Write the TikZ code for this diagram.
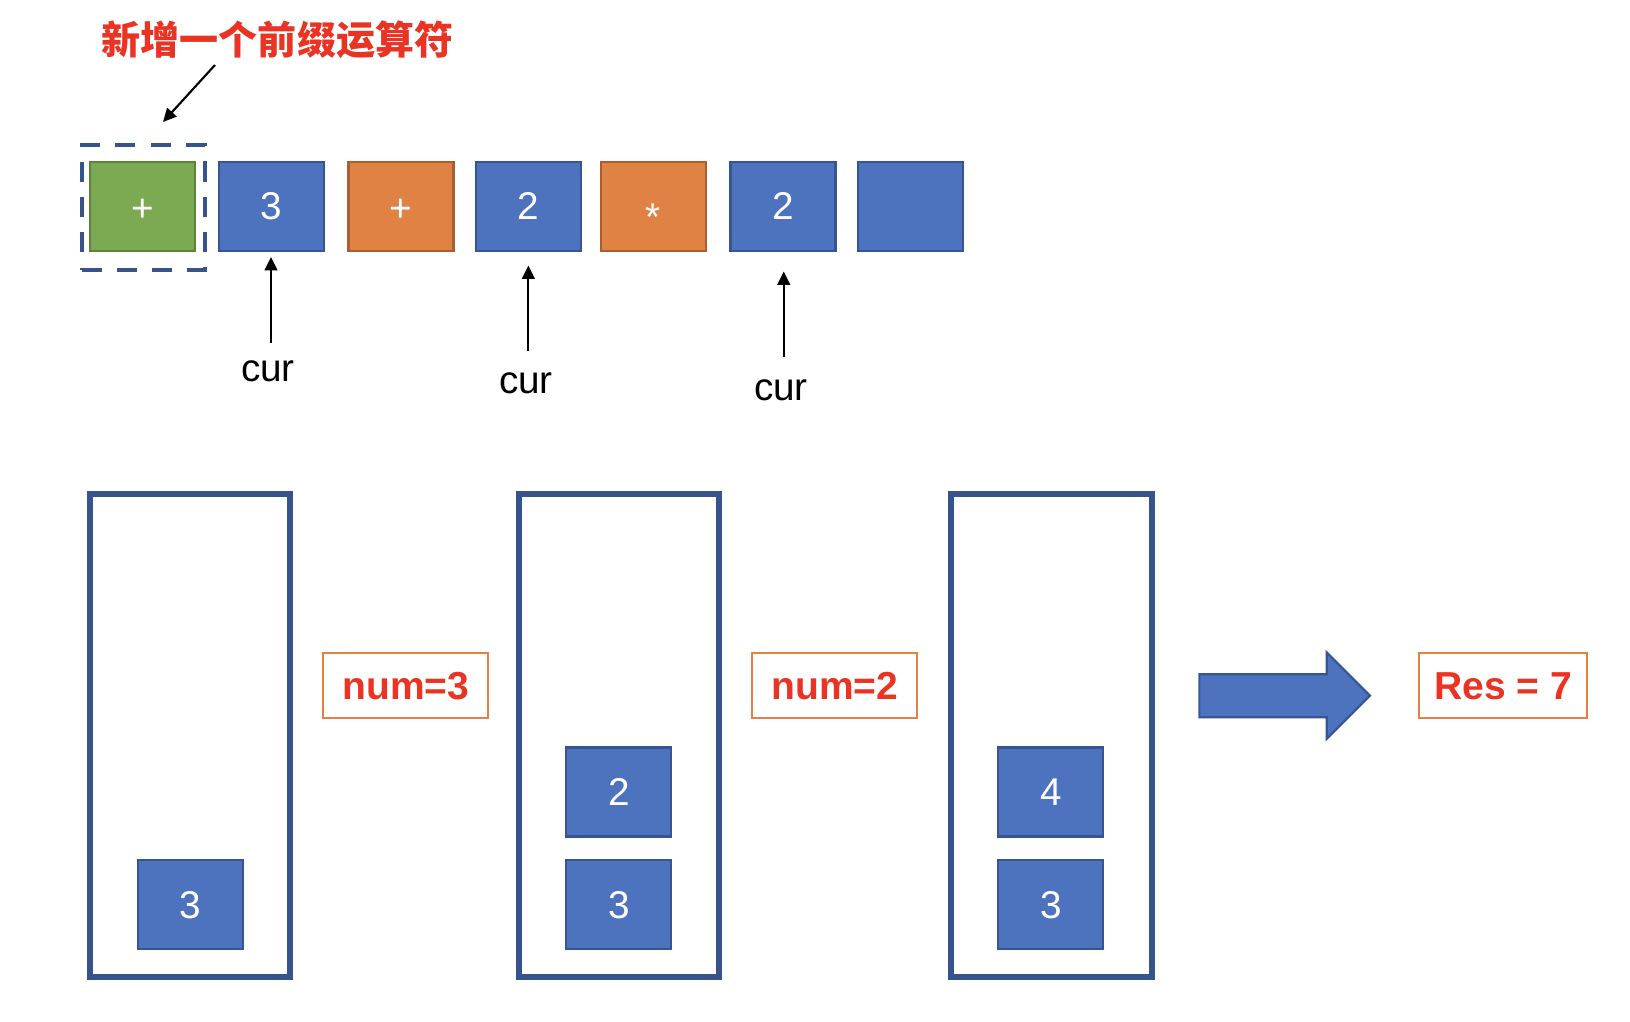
\documentclass[tikz,border=0pt]{standalone}
\usepackage{fontspec}
\setmainfont{Liberation Sans}
\newfontfamily\cjk{Noto Sans CJK SC}
\usetikzlibrary{arrows.meta}
\definecolor{bfill}{RGB}{78,115,190}
\definecolor{bline}{RGB}{55,85,146}
\definecolor{gfill}{RGB}{124,170,82}
\definecolor{gline}{RGB}{94,130,60}
\definecolor{ofill}{RGB}{224,130,67}
\definecolor{oline}{RGB}{168,94,46}
\definecolor{stk}{RGB}{54,83,140}
\definecolor{redtxt}{RGB}{234,51,35}
\definecolor{numline}{RGB}{228,128,64}
\tikzset{
  cell/.style={rectangle, minimum width=1.05cm, minimum height=0.89cm, line width=0.6pt,
    text=white, font=\fontsize{11}{13}\selectfont, inner sep=0pt},
  bcell/.style={cell, fill=bfill, draw=bline},
  gcell/.style={cell, fill=gfill, draw=gline},
  ocell/.style={cell, fill=ofill, draw=oline},
  selbox/.style={rectangle, draw=stk, line width=1.15pt, dash pattern=on 5.7pt off 4.3pt,
    minimum width=1.227cm, minimum height=1.244cm, inner sep=0pt},
  stackbox/.style={rectangle, draw=stk, line width=1.7pt, minimum width=2cm,
    minimum height=4.824cm, inner sep=0pt},
  numbox/.style={rectangle, draw=numline, line width=0.6pt, minimum width=1.65cm,
    minimum height=0.65cm, inner sep=0pt, text=redtxt, font=\fontsize{11.1}{13}\selectfont\bfseries},
  curlbl/.style={font=\fontsize{11}{13}\selectfont, inner sep=0pt},
  ptr/.style={line width=0.6pt, -{Triangle[length=3.8pt,width=3.6pt]}},
}
\begin{document}
\begin{tikzpicture}[x=0.01cm,y=-0.01cm]
\useasboundingbox (0,0) rectangle (1630,1022);
% title
\node (title) at (277.5,40) {\cjk\bfseries\color{redtxt}\fontsize{11.1}{14}\selectfont 新增一个前缀运算符};
\coordinate (ta) at (215,65);
\coordinate (tb) at (163,122);
\draw[ptr] (ta) -- (tb);
% top row
\node[selbox] (sel) at (143.3,207.5) {};
\node[gcell, text height=8.6pt, text depth=0pt] (c0) at (142.5,206.3) {+};
\node[bcell] (c1) at (271.3,206.3) {3};
\node[ocell, text height=8.6pt, text depth=0pt] (c2) at (401,206.3) {+};
\node[bcell] (c3) at (528.6,206.3) {2};
\node[ocell, text height=13.5pt, text depth=0pt] (c4) at (653.4,206.3) {*};
\node[bcell] (c5) at (783,206.3) {2};
\node[bcell] (c6) at (910.6,206.3) {};
% cur pointers
\node[curlbl] (cur1) at (268,371) {cur};
\node[curlbl] (cur2) at (526,383) {cur};
\node[curlbl] (cur3) at (781,390) {cur};
\coordinate (p1a) at (271,343); \coordinate (p1b) at (271,257);
\coordinate (p2a) at (528.4,351); \coordinate (p2b) at (528.4,265.5);
\coordinate (p3a) at (783.7,357); \coordinate (p3b) at (783.7,271.5);
\draw[ptr] (p1a) -- (p1b);
\draw[ptr] (p2a) -- (p2b);
\draw[ptr] (p3a) -- (p3b);
% stacks
\node[stackbox] (s1) at (190,735.5) {};
\node[stackbox] (s2) at (619.4,735.5) {};
\node[stackbox] (s3) at (1051.5,735.5) {};
\node[bcell] (s1a) at (190.4,904.7) {3};
\node[bcell] (s2a) at (618.8,904.7) {3};
\node[bcell] (s2b) at (618.8,792) {2};
\node[bcell] (s3a) at (1050.8,904.7) {3};
\node[bcell] (s3b) at (1050.8,792) {4};
% labels
\node[numbox] (n1) at (405.8,685.8) {num=3};
\node[numbox] (n2) at (834.8,685.8) {num=2};
\node[numbox, minimum width=1.68cm] (res) at (1503.3,685.8) {Res = 7};
% big arrow
\draw[fill=bfill, draw=bline, line width=0.6pt]
  (1199.3,674.3) -- (1326.7,674.3) -- (1326.7,652.3) -- (1370,695.7)
  -- (1326.7,739) -- (1326.7,717.3) -- (1199.3,717.3) -- cycle;
\end{tikzpicture}
\end{document}
